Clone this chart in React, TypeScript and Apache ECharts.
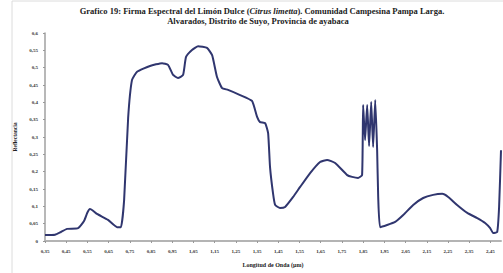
import React, { useEffect, useRef } from "react";
import * as echarts from "echarts";

const titleLine1 = "Grafico 19: Firma Espectral del Limón Dulce ({i|Citrus limetta}). Comunidad Campesina Pampa Larga.";
const titleLine2 = "Alvarados, Distrito de Suyo, Provincia de ayabaca";
const xAxisTitle = "Longitud de Onda (µm)";
const yAxisTitle = "Reflectancia";

const xTickValues = [0.35, 0.45, 0.55, 0.65, 0.75, 0.85, 0.95, 1.05, 1.15, 1.25, 1.35, 1.45, 1.55, 1.65, 1.75, 1.85, 1.95, 2.05, 2.15, 2.25, 2.35, 2.45];

const wavelength = [
  0.35, 0.397, 0.425, 0.454, 0.506, 0.534, 0.55, 0.562, 0.575, 0.595, 0.647, 0.69, 0.708, 0.723, 0.742, 0.76, 0.784,
  0.845, 0.902, 0.93, 0.954, 0.977, 1.001, 1.015, 1.043, 1.072, 1.114, 1.138, 1.161, 1.185, 1.213,
  1.27, 1.326, 1.35, 1.364, 1.388, 1.402, 1.411, 1.425, 1.435, 1.458, 1.482, 1.52, 1.553, 1.6, 1.647,
  1.68, 1.718, 1.775, 1.798, 1.826, 1.845, 1.85, 1.859, 1.869, 1.878, 1.888, 1.897, 1.907, 1.916,
  1.921, 1.93, 1.963, 2.001, 2.039, 2.086, 2.133, 2.18, 2.223, 2.251, 2.293, 2.341, 2.388, 2.425,
  2.449, 2.463, 2.482, 2.491, 2.5,
];

const reflectance = [
  0.017, 0.018, 0.026, 0.035, 0.037, 0.058, 0.082, 0.092, 0.088, 0.078, 0.061, 0.04, 0.04, 0.118, 0.355, 0.464, 0.488,
  0.505, 0.513, 0.508, 0.479, 0.47, 0.479, 0.531, 0.551, 0.562, 0.557, 0.536, 0.473, 0.441, 0.436,
  0.421, 0.404, 0.358, 0.343, 0.34, 0.311, 0.213, 0.138, 0.104, 0.095, 0.098, 0.127, 0.156, 0.196, 0.228,
  0.234, 0.225, 0.19, 0.185, 0.182, 0.19, 0.392, 0.291, 0.392, 0.274, 0.401, 0.271, 0.407, 0.262,
  0.127, 0.04, 0.046, 0.055, 0.075, 0.104, 0.124, 0.133, 0.136, 0.127, 0.104, 0.081, 0.066, 0.052,
  0.037, 0.023, 0.026, 0.098, 0.262,
];

const fmt = (v: number) => {
  const r = Math.round(v * 100) / 100;
  return String(r).replace(".", ",");
};

export default function App() {
  const ref = useRef<HTMLDivElement>(null);
  useEffect(() => {
    if (!ref.current) return;
    const chart = echarts.init(ref.current, undefined, { renderer: "svg" });
    const font = "Liberation Serif";
    chart.setOption({
      animation: false,
      backgroundColor: "#ffffff",
      grid: { left: 45, right: 2, top: 33, bottom: 32, containLabel: false },
      graphic: [
        {
          type: "rect",
          shape: { x: 12, y: 1, width: 520, height: 300 },
          style: { fill: "none", stroke: "#dcdcdc", lineWidth: 1 },
          silent: true,
        },
        {
          type: "text",
          x: 262,
          y: 11,
          style: {
            text: titleLine1,
            textAlign: "center",
            textVerticalAlign: "middle",
            fontFamily: font,
            fontWeight: "bold",
            fontSize: 8.5,
            fill: "#222",
            rich: { i: { fontStyle: "italic", fontWeight: "bold", fontFamily: font, fontSize: 8.5, fill: "#222" } },
          },
        },
        {
          type: "text",
          x: 258,
          y: 21,
          style: {
            text: titleLine2,
            textAlign: "center",
            textVerticalAlign: "middle",
            fontFamily: font,
            fontWeight: "bold",
            fontSize: 8.5,
            fill: "#222",
          },
        },
      ],
      xAxis: {
        type: "value",
        min: 0.35,
        max: 2.5,
        interval: 0.05,
        name: xAxisTitle,
        nameLocation: "middle",
        nameGap: 21,
        nameTextStyle: { fontFamily: font, fontWeight: "bold", fontSize: 6, color: "#222" },
        axisLine: { show: true, lineStyle: { color: "#b4b4b4", width: 2 } },
        axisTick: { show: true, customValues: xTickValues, length: 2, lineStyle: { color: "#999" } },
        axisLabel: {
          customValues: xTickValues,
          formatter: (v: number) => fmt(v),
          fontFamily: font,
          fontWeight: "bold",
          fontSize: 5,
          color: "#333",
          margin: 8,
        },
        splitLine: { show: false },
      },
      yAxis: {
        type: "value",
        min: 0,
        max: 0.6,
        interval: 0.05,
        name: yAxisTitle,
        nameLocation: "middle",
        nameGap: 23,
        nameRotate: 90,
        nameTextStyle: { fontFamily: font, fontWeight: "bold", fontSize: 5.5, color: "#222" },
        axisLine: { show: true, lineStyle: { color: "#a0a0a0", width: 1.5 } },
        axisTick: { show: true, length: 2, lineStyle: { color: "#999" } },
        axisLabel: {
          formatter: (v: number) => fmt(v),
          fontFamily: font,
          fontWeight: "bold",
          fontSize: 5,
          color: "#333",
          margin: 7,
        },
        splitLine: { show: false },
      },
      series: [
        {
          type: "line",
          data: wavelength.map((w, i) => [w, reflectance[i]]),
          showSymbol: false,
          smooth: 0.15,
          lineStyle: { color: "#30366f", width: 2 },
          clip: false,
        },
      ],
    });
    return () => chart.dispose();
  }, []);
  return <div ref={ref} style={{ position: "fixed", left: 0, top: 0, width: 503, height: 273 }} />;
}
